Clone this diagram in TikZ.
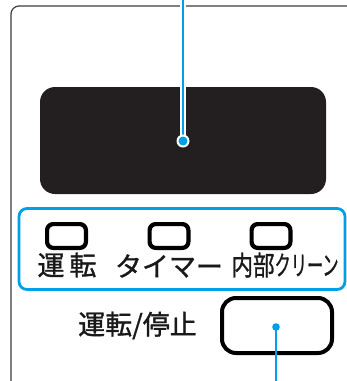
\documentclass[tikz,border=0pt]{standalone}
\usepackage{fontspec}
\usepackage{graphicx}
\setmainfont{Noto Sans CJK JP}[FakeBold=1.2]
\usetikzlibrary{positioning}
\definecolor{leadblue}{RGB}{0,160,233}
\definecolor{lcdblack}{RGB}{35,31,32}
\definecolor{panelgray}{RGB}{60,60,60}

\begin{document}
\begin{tikzpicture}[x=1pt,y=-1pt,line cap=round,line join=round,
  lamp/.style={draw=black,line width=4.2pt,rounded corners=6pt,minimum width=38.8pt,minimum height=23.8pt,inner sep=0pt},
  lbl/.style={font=\fontsize{27}{27}\selectfont,inner sep=0pt,text=black!90},
  leader/.style={leadblue,line width=2.8pt},
  halo/.style={white,line width=6.5pt}]
	\useasboundingbox (0,0) rectangle (347,381);
	% panel outline
	\draw [panelgray,line width=1.2pt] (11,381) -- (11,14) arc (180:270:8) -- (350,6);
	% display
	\node (display) [fill=lcdblack,rounded corners=15pt,minimum width=286pt,minimum height=107pt] at (183,140.5) {};
	% lamp group
	\node (lampgroup) [draw=leadblue,line width=2.8pt,rounded corners=8pt,minimum width=326pt,minimum height=81pt] at (182,249) {};
	\node (runlamp) [lamp] at (66.5,236) {};
	\node (timerlamp) [lamp] at (169,236) {};
	\node (cleanlamp) [lamp] at (271,236) {};
	\node (runlbl) [lbl] at (67,265) {運\hspace{5pt}転};
	\node (timerlbl) [lbl] at (169,266) {タイマー};
	\node (cleanlbl) [lbl] at (285,265) {\scalebox{0.8}[1]{内部}\scalebox{0.6}[1]{クリーン}};
	% button
	\node (stopbtn) [draw=black,line width=4pt,rounded corners=14pt,minimum width=110pt,minimum height=55pt] at (277,325.5) {};
	\node (stoplbl) [lbl,left=23pt of stopbtn] {運転/停止};
	% leaders
	\coordinate (disptop) at (183,0);
	\coordinate (dispdot) at (183,141);
	\coordinate (btndot) at (276,327);
	\coordinate (btnbottom) at (276,381);
	\draw [halo] (disptop) -- (dispdot);
	\draw [leader] (disptop) -- (dispdot);
	\fill [white] (dispdot) circle (6.5);
	\fill [leadblue] (dispdot) circle (4.5);
	\draw [leader] (btndot) -- (btnbottom);
	\fill [leadblue] (btndot) circle (3.8);
\end{tikzpicture}
\end{document}
